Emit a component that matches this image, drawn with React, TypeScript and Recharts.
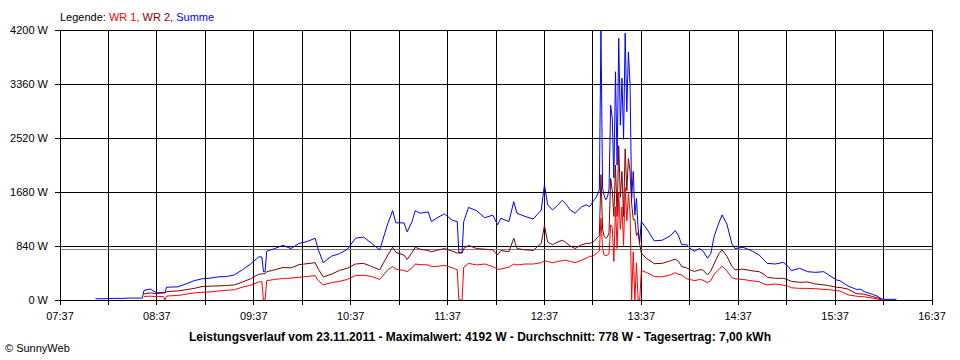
import React from 'react';
import { LineChart, Line, XAxis, YAxis, CartesianGrid, ReferenceLine } from 'recharts';

// Leistungsverlauf 23.11.2011, Werte in W
const times = [
  '07:59', '08:05', '08:10', '08:15', '08:20', '08:28', '08:29', '08:33', '08:37', '08:41',
  '08:42', '08:43', '08:45', '08:50', '08:55', '09:00', '09:05', '09:10', '09:15', '09:20',
  '09:25', '09:30', '09:35', '09:40', '09:42', '09:43', '09:44', '09:45', '09:50', '09:55',
  '10:00', '10:05', '10:10', '10:15', '10:17', '10:20', '10:25', '10:30', '10:35', '10:40',
  '10:45', '10:50', '10:55', '11:00', '11:03', '11:05', '11:10', '11:12', '11:15', '11:17',
  '11:20', '11:25', '11:27', '11:30', '11:35', '11:40', '11:43', '11:44', '11:46', '11:47',
  '11:50', '11:55', '12:00', '12:05', '12:08', '12:10', '12:15', '12:18', '12:20', '12:25',
  '12:30', '12:35', '12:37', '12:39', '12:42', '12:45', '12:48', '12:50', '12:53', '12:56',
  '13:00', '13:03', '13:05', '13:07', '13:08', '13:09', '13:10', '13:11', '13:12', '13:13',
  '13:14', '13:15', '13:16', '13:17', '13:18', '13:19', '13:20', '13:21', '13:22', '13:23',
  '13:24', '13:25', '13:26', '13:27', '13:28', '13:29', '13:30', '13:31', '13:32', '13:33',
  '13:34', '13:35', '13:36', '13:37', '13:40', '13:45', '13:50', '13:55', '13:58', '14:00',
  '14:02', '14:05', '14:08', '14:10', '14:13', '14:15', '14:18', '14:20', '14:22', '14:25',
  '14:27', '14:30', '14:33', '14:35', '14:40', '14:45', '14:50', '14:53', '14:55', '15:00',
  '15:05', '15:08', '15:10', '15:15', '15:20', '15:25', '15:30', '15:33', '15:38', '15:40',
  '15:45', '15:50', '15:53', '15:55', '16:00', '16:03', '16:06', '16:08', '16:14', '16:15',
];

const summe = [
  20, 20, 25, 25, 30, 30, 150, 170, 110, 120,
  110, 200, 200, 205, 250, 300, 330, 340, 360, 365,
  390, 470, 560, 670, 670, 440, 440, 760, 800, 850,
  800, 880, 910, 960, 780, 580, 680, 720, 790, 960,
  980, 880, 780, 1190, 1390, 1200, 1200, 1060, 1220, 1390,
  1350, 1370, 1220, 1270, 1340, 1240, 1220, 740, 740, 1220,
  1440, 1390, 1280, 1320, 1170, 1270, 1220, 1530, 1350, 1300,
  1260, 1400, 1790, 1480, 1400, 1470, 1550, 1500, 1400, 1350,
  1450, 1480, 1450, 1530, 1560, 1600, 1650, 1710, 4192, 1740,
  1620, 1560, 1600, 1720, 3030, 2830, 1900, 3550, 2100, 4070,
  2720, 3450, 2500, 4150, 2930, 3860, 3370, 1580, 2000, 1320,
  1580, 1110, 900, 1220, 1120, 920, 930, 1000, 1080, 1000,
  860, 860, 790, 760, 800, 770, 650, 720, 980, 1200,
  1323, 1180, 880, 800, 820, 770, 700, 620, 570, 560,
  586, 520, 456, 493, 440, 430, 441, 389, 311, 300,
  218, 166, 166, 130, 90, 60, 15, 10, 10, 10,
];

const wr2 = [
  null, null, null, null, null, null, 95, 110, 100, 110,
  110, 130, 135, 140, 160, 180, 210, 215, 220, 225,
  235, 280, 330, 400, 405, 410, 410, 440, 470, 505,
  500, 550, 565, 580, 480, 360, 400, 460, 495, 560,
  570, 520, 470, 700, 820, 740, 700, 630, 740, 820,
  790, 770, 750, 770, 800, 760, 730, 730, 730, 800,
  850, 800, 790, 780, 700, 770, 750, 960, 800, 780,
  770, 880, 1160, 900, 860, 900, 930, 900, 840, 800,
  860, 880, 880, 900, 920, 950, 980, 1000, 1950, 1100,
  990, 960, 980, 1050, 1890, 1700, 1300, 2100, 1300, 2400,
  1600, 2000, 1300, 2350, 1700, 2200, 2000, 1500, 1250, 1250,
  1000, 1050, 860, 730, 650, 565, 570, 610, 635, 600,
  520, 500, 460, 445, 470, 470, 390, 450, 560, 720,
  780, 680, 530, 470, 480, 456, 440, 400, 353, 337,
  337, 311, 290, 275, 280, 249, 235, 225, 197, 195,
  170, 100, 94, 90, 55, 35, 10, null, null, null,
];

const wr1 = [
  null, null, null, null, null, null, 55, 60, 50, 55,
  0, 60, 65, 70, 90, 110, 120, 125, 140, 150,
  160, 200, 230, 280, 285, 0, 0, 300, 320, 335,
  340, 355, 365, 380, 300, 235, 270, 290, 320, 380,
  385, 365, 320, 470, 520, 480, 460, 440, 500, 560,
  550, 545, 520, 520, 540, 500, 470, 0, 0, 510,
  570, 545, 560, 520, 480, 480, 510, 560, 545, 560,
  560, 580, 610, 600, 580, 600, 610, 620, 600, 580,
  620, 650, 680, 680, 700, 720, 740, 760, 1270, 800,
  700, 690, 700, 720, 1170, 1130, 600, 1450, 800, 1670,
  1100, 1450, 850, 1750, 1230, 1660, 1370, 0, 750, 0,
  580, 0, 0, 460, 430, 365, 360, 390, 425, 400,
  389, 330, 315, 300, 320, 310, 270, 300, 400, 470,
  529, 450, 350, 330, 320, 300, 285, 250, 233, 249,
  230, 215, 190, 181, 181, 175, 166, 160, 145, 140,
  80, 60, 52, 50, 30, 15, 5, null, null, null,
];

const halfHours = [
  '07:37', '08:07', '08:37', '09:07', '09:37', '10:07', '10:37', '11:07', '11:37', '12:07',
  '12:37', '13:07', '13:37', '14:07', '14:37', '15:07', '15:37', '16:07', '16:37',
];
const yTicks = [0, 840, 1680, 2520, 3360, 4200];
const average = 778;

const legendParts = [
  { text: 'Legende: ', color: '#000000' },
  { text: 'WR 1, ', color: '#ff0000' },
  { text: 'WR 2, ', color: '#800000' },
  { text: 'Summe', color: '#0000ff' },
];
const title =
  'Leistungsverlauf vom 23.11.2011 - Maximalwert: 4192 W - Durchschnitt: 778 W - Tagesertrag: 7,00 kWh';
const footer = '\u00a9 SunnyWeb';

const toMinutes = (s: string) => {
  const [h, m] = s.split(':').map(Number);
  return h * 60 + m;
};

const data = times.map((t, i) => ({
  t: toMinutes(t),
  summe: summe[i],
  wr1: wr1[i],
  wr2: wr2[i],
}));

const xTicks = halfHours.map(toMinutes);
const font = "'Liberation Sans', Arial, sans-serif";

const formatTime = (v: number) => {
  if ((v - xTicks[0]) % 60 !== 0) return '';
  const h = Math.floor(v / 60);
  const m = v % 60;
  return `${String(h).padStart(2, '0')}:${String(m).padStart(2, '0')}`;
};

export default function App() {
  return (
    <div style={{ position: 'absolute', left: 0, top: 0, width: 960, height: 360, background: '#fff' }}>
      <style>{`
        .recharts-cartesian-grid line,
        .recharts-cartesian-axis-tick-line,
        .recharts-cartesian-axis-line,
        .recharts-reference-line line { shape-rendering: crispEdges; }
      `}</style>
      <LineChart
        width={960}
        height={360}
        data={data}
        margin={{ top: 30, right: 28, bottom: 30, left: 0 }}
        style={{ fontFamily: font }}
      >
        <CartesianGrid stroke="#000" strokeWidth={1} vertical horizontal verticalPoints={undefined} />
        <XAxis
          dataKey="t"
          type="number"
          domain={[xTicks[0], xTicks[xTicks.length - 1]]}
          ticks={xTicks}
          tickFormatter={formatTime}
          interval={0}
          height={30}
          tickSize={5}
          tickMargin={7}
          stroke="#000"
          tick={{ fill: '#000', fontSize: 11 }}
        />
        <YAxis
          type="number"
          domain={[0, 4200]}
          ticks={yTicks}
          tickFormatter={(v: number) => `${v} W`}
          width={60}
          tickSize={5}
          tickMargin={7}
          interval={0}
          stroke="#000"
          tick={{ fill: '#000', fontSize: 11 }}
        />
        <ReferenceLine y={average} stroke="#808080" strokeWidth={1} />
        <Line type="linear" dataKey="summe" stroke="#0000ff" strokeWidth={1} dot={false} isAnimationActive={false} />
        <Line type="linear" dataKey="wr2" stroke="#800000" strokeWidth={1} dot={false} isAnimationActive={false} />
        <Line type="linear" dataKey="wr1" stroke="#ff0000" strokeWidth={1} dot={false} isAnimationActive={false} />
      </LineChart>
      <svg
        width={960}
        height={360}
        style={{ position: 'absolute', left: 0, top: 0, pointerEvents: 'none', fontFamily: font }}
      >
        <text x={60} y={21} fontSize={11}>
          {legendParts.map((p) => (
            <tspan key={p.text} fill={p.color}>
              {p.text.replace(/ /g, '\u00a0')}
            </tspan>
          ))}
        </text>
        <text x={480} y={341} fontSize={12} fontWeight="bold" textAnchor="middle" fill="#000">
          {title}
        </text>
        <text x={5} y={352} fontSize={11} fill="#000">
          {footer}
        </text>
      </svg>
    </div>
  );
}
